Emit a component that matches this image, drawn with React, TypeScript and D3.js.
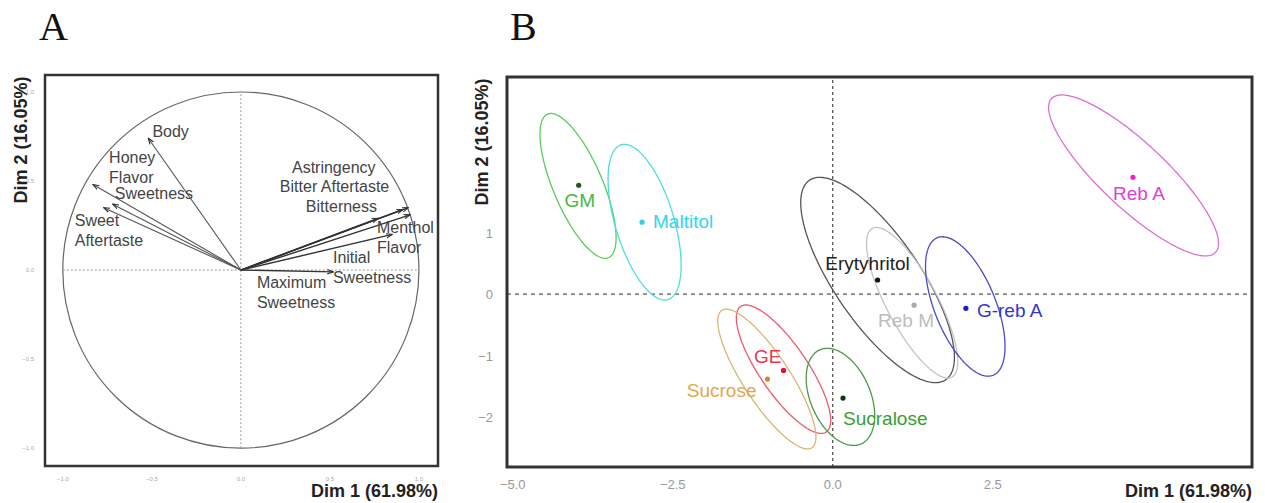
import React, { useEffect, useRef } from "react";
import * as d3 from "d3";

// ---- panel A: variables (correlation circle) ----
const varNames = [
  "Body", "Honey Flavor", "Sweetness", "Sweet Aftertaste", "Astringency",
  "Bitter Aftertaste", "Bitterness", "Menthol Flavor", "Initial Sweetness", "Maximum Sweetness",
];
const varDim1 = [-0.52, -0.83, -0.72, -0.77, 0.94, 0.91, 0.77, 0.95, 0.85, 0.52];
const varDim2 = [0.74, 0.48, 0.37, 0.35, 0.35, 0.34, 0.29, 0.31, 0.2, -0.01];
const varLabelLines = [
  ["Body"], ["Honey", "Flavor"], ["Sweetness"], ["Sweet", "Aftertaste"], ["Astringency"],
  ["Bitter Aftertaste"], ["Bitterness"], ["Menthol", "Flavor"], ["Initial", "Sweetness"], ["Maximum", "Sweetness"],
];
const circleTicks = [-1.0, -0.5, 0.0, 0.5, 1.0];

// ---- panel B: products with confidence ellipses ----
const products = ["GM", "Maltitol", "GE", "Sucrose", "Sucralose", "Erytyhritol", "Reb M", "G-reb A", "Reb A"];
const prodDim1 = [-3.97, -2.98, -0.77, -1.02, 0.16, 0.7, 1.27, 2.08, 4.69];
const prodDim2 = [1.77, 1.17, -1.24, -1.38, -1.69, 0.23, -0.18, -0.23, 1.9];
const ellCx = [-3.98, -2.94, -0.77, -1.03, 0.12, 0.7, 1.24, 2.07, 4.7];
const ellCy = [1.76, 1.17, -1.22, -1.38, -1.67, 0.23, -0.14, -0.2, 1.93];
const ellA = [1.26, 1.31, 1.22, 1.32, 0.83, 1.94, 1.36, 1.2, 1.79];
const ellB = [0.39, 0.46, 0.38, 0.37, 0.47, 0.68, 0.4, 0.48, 0.52];
const ellAngle = [-68, -74, -57, -58, -68, -57, -63, -69, -44.5];
const xTicksB = [-5.0, -2.5, 0.0, 2.5];
const yTicksB = [-2, -1, 0, 1];

// layout / styling (not data)
const varLabelPos = [
  [-0.497, 0.747], [-0.74, 0.6], [-0.708, 0.399], [-0.933, 0.247], [0.287, 0.545],
  [0.219, 0.438], [0.365, 0.326], [0.764, 0.208], [0.517, 0.039], [0.09, -0.1],
];
const prodLabel = [
  { dx: 1, dy: 22, anchor: "middle" },
  { dx: 11, dy: 6, anchor: "start" },
  { dx: -2, dy: -7, anchor: "end" },
  { dx: -11, dy: 18, anchor: "end" },
  { dx: 0, dy: 27, anchor: "start" },
  { dx: -10, dy: -10, anchor: "middle" },
  { dx: -8, dy: 22, anchor: "middle" },
  { dx: 11, dy: 9, anchor: "start" },
  { dx: 6, dy: 23, anchor: "middle" },
];
const ellColors = ["#5bcc5b", "#4fdede", "#ee5a6a", "#dab574", "#4a9a4a", "#555555", "#c4c4c4", "#4a4acc", "#d970d9"];
const labelColors = ["#45b845", "#35d4ea", "#ee3550", "#e2a74c", "#35a035", "#222222", "#bdbdbd", "#3434cc", "#dd3ddd"];
const dotColors = ["#225522", "#30d0e8", "#dd1133", "#cc8a2a", "#113311", "#111111", "#aaaaaa", "#1a1acc", "#ee22cc"];

const W = 1265;
const H = 503;

export default function App() {
  const svgRef = useRef(null);

  useEffect(() => {
    const svg = d3.select(svgRef.current);
    svg.selectAll("*").remove();
    const font = "'Liberation Sans', Arial, sans-serif";

    svg.append("rect").attr("width", W).attr("height", H).attr("fill", "#fff");

    // panel letters
    svg.append("text").attr("x", 39).attr("y", 40).text("A")
      .attr("font-family", "'Liberation Serif', 'Times New Roman', serif").attr("font-size", 40).attr("fill", "#111");
    svg.append("text").attr("x", 510).attr("y", 40).text("B")
      .attr("font-family", "'Liberation Serif', 'Times New Roman', serif").attr("font-size", 40).attr("fill", "#111");

    // ================= panel A =================
    const xA = d3.scaleLinear().domain([-1.1, 1.107]).range([45, 438]);
    const yA = d3.scaleLinear().domain([-1.1, 1.095]).range([466, 75]);
    const gA = svg.append("g");

    gA.append("circle")
      .attr("cx", xA(0)).attr("cy", yA(0))
      .attr("r", xA(1) - xA(0))
      .attr("fill", "none").attr("stroke", "#666").attr("stroke-width", 1.2);

    gA.append("line")
      .attr("x1", xA(-1)).attr("x2", xA(1)).attr("y1", yA(0)).attr("y2", yA(0))
      .attr("stroke", "#999").attr("stroke-dasharray", "2,2");
    gA.append("line")
      .attr("x1", xA(0)).attr("x2", xA(0)).attr("y1", yA(-1)).attr("y2", yA(1))
      .attr("stroke", "#999").attr("stroke-dasharray", "2,2");

    svg.append("defs").append("marker")
      .attr("id", "arrowA")
      .attr("viewBox", "0 -4 8 8")
      .attr("refX", 7).attr("refY", 0)
      .attr("markerWidth", 7).attr("markerHeight", 7)
      .attr("markerUnits", "userSpaceOnUse")
      .attr("orient", "auto")
      .append("path").attr("d", "M0,-2.5L7,0L0,2.5").attr("fill", "none").attr("stroke", "#333").attr("stroke-width", 1.3);

    gA.selectAll(".arrow")
      .data(varNames)
      .enter()
      .append("line")
      .attr("x1", xA(0)).attr("y1", yA(0))
      .attr("x2", (d, i) => xA(varDim1[i]))
      .attr("y2", (d, i) => yA(varDim2[i]))
      .attr("stroke", (d, i) => (varDim1[i] > 0 ? "#333" : "#555"))
      .attr("stroke-width", (d, i) => (varDim1[i] > 0 ? 1.4 : 1.1))
      .attr("marker-end", "url(#arrowA)");

    varNames.forEach((name, i) => {
      const t = gA.append("text")
        .attr("x", xA(varLabelPos[i][0]))
        .attr("y", yA(varLabelPos[i][1]))
        .attr("font-family", font).attr("font-size", 16).attr("fill", "#444");
      varLabelLines[i].forEach((line, j) => {
        t.append("tspan").attr("x", xA(varLabelPos[i][0])).attr("dy", j === 0 ? 0 : 20).text(line);
      });
    });

    // tick labels (tiny)
    gA.selectAll(".xt").data(circleTicks).enter().append("text")
      .attr("x", (d) => xA(d)).attr("y", 481).attr("text-anchor", "middle")
      .attr("font-family", font).attr("font-size", 6).attr("fill", "#aaa")
      .text((d) => d3.format(".1f")(d));
    gA.selectAll(".yt").data(circleTicks).enter().append("text")
      .attr("x", 34).attr("y", (d) => yA(d) + 2).attr("text-anchor", "end")
      .attr("font-family", font).attr("font-size", 6).attr("fill", "#aaa")
      .text((d) => d3.format(".1f")(d));

    gA.append("rect")
      .attr("x", 45).attr("y", 75).attr("width", 393).attr("height", 391)
      .attr("fill", "none").attr("stroke", "#333").attr("stroke-width", 2.5);

    gA.append("text").attr("x", 438).attr("y", 497).attr("text-anchor", "end")
      .attr("font-family", font).attr("font-size", 18).attr("font-weight", "bold").attr("fill", "#222")
      .text("Dim 1 (61.98%)");
    gA.append("text").attr("transform", "translate(27,140) rotate(-90)").attr("text-anchor", "middle")
      .attr("font-family", font).attr("font-size", 18).attr("font-weight", "bold").attr("fill", "#222")
      .text("Dim 2 (16.05%)");

    // ================= panel B =================
    const xB = d3.scaleLinear().domain([-5.09, 6.55]).range([507, 1252]);
    const yB = d3.scaleLinear().domain([-2.81, 3.53]).range([467, 77]);
    const gB = svg.append("g");

    gB.append("line")
      .attr("x1", xB.range()[0]).attr("x2", xB.range()[1]).attr("y1", yB(0)).attr("y2", yB(0))
      .attr("stroke", "#888").attr("stroke-width", 1.6).attr("stroke-dasharray", "4,4");
    gB.append("line")
      .attr("x1", xB(0)).attr("x2", xB(0)).attr("y1", yB.range()[0]).attr("y2", yB.range()[1])
      .attr("stroke", "#222").attr("stroke-width", 1).attr("stroke-dasharray", "3,3");

    const ellLine = d3.line().curve(d3.curveLinearClosed);
    const ts = d3.range(0, 2 * Math.PI, Math.PI / 90);
    products.forEach((p, i) => {
      const phi = (ellAngle[i] * Math.PI) / 180;
      const pts = ts.map((t) => {
        const u = ellA[i] * Math.cos(t);
        const v = ellB[i] * Math.sin(t);
        return [
          xB(ellCx[i] + u * Math.cos(phi) - v * Math.sin(phi)),
          yB(ellCy[i] + u * Math.sin(phi) + v * Math.cos(phi)),
        ];
      });
      gB.append("path").attr("d", ellLine(pts))
        .attr("fill", "none").attr("stroke", ellColors[i]).attr("stroke-width", 1.3);
    });

    gB.selectAll(".dot")
      .data(products)
      .enter()
      .append("circle")
      .attr("cx", (d, i) => xB(prodDim1[i]))
      .attr("cy", (d, i) => yB(prodDim2[i]))
      .attr("r", 2.6)
      .attr("fill", (d, i) => dotColors[i]);

    gB.selectAll(".lab")
      .data(products)
      .enter()
      .append("text")
      .attr("x", (d, i) => xB(prodDim1[i]) + prodLabel[i].dx)
      .attr("y", (d, i) => yB(prodDim2[i]) + prodLabel[i].dy)
      .attr("text-anchor", (d, i) => prodLabel[i].anchor)
      .attr("font-family", font).attr("font-size", 19)
      .attr("fill", (d, i) => labelColors[i])
      .text((d) => d);

    gB.selectAll(".xt").data(xTicksB).enter().append("text")
      .attr("x", (d) => xB(d)).attr("y", 489).attr("text-anchor", "middle")
      .attr("font-family", font).attr("font-size", 13).attr("fill", "#999")
      .text((d) => d3.format(".1f")(d));
    gB.selectAll(".yt").data(yTicksB).enter().append("text")
      .attr("x", 493).attr("y", (d) => yB(d) + 5).attr("text-anchor", "end")
      .attr("font-family", font).attr("font-size", 13).attr("fill", "#999")
      .text((d) => d3.format("d")(d));

    gB.append("rect")
      .attr("x", 507).attr("y", 77).attr("width", 745).attr("height", 390)
      .attr("fill", "none").attr("stroke", "#333").attr("stroke-width", 3);

    gB.append("text").attr("x", 1252).attr("y", 497).attr("text-anchor", "end")
      .attr("font-family", font).attr("font-size", 18).attr("font-weight", "bold").attr("fill", "#222")
      .text("Dim 1 (61.98%)");
    gB.append("text").attr("transform", "translate(488,142) rotate(-90)").attr("text-anchor", "middle")
      .attr("font-family", font).attr("font-size", 18).attr("font-weight", "bold").attr("fill", "#222")
      .text("Dim 2 (16.05%)");
  }, []);

  return (
    <svg
      ref={svgRef}
      width={W}
      height={H}
      style={{ position: "absolute", left: 0, top: 0, display: "block" }}
    ></svg>
  );
}
